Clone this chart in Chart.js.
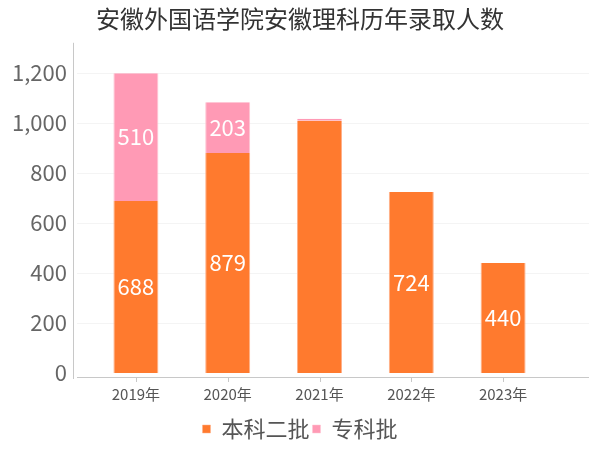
<!DOCTYPE html>
<html>
<head>
<meta charset="utf-8">
<script src="https://cdn.jsdelivr.net/npm/chart.js@4/dist/chart.umd.min.js"></script>
<style>
  html, body { margin: 0; padding: 0; background: #fff; }
  #wrap { width: 600px; height: 450px; position: relative; }
</style>
</head>
<body>
<div id="wrap"><canvas id="c"></canvas></div>
<script>
const years      = ['2019年', '2020年', '2021年', '2022年', '2023年'];
const benke2     = [688, 879, 1008, 724, 440];
const zhuanke    = [510, 203, 8, null, null];
// which values get a label printed inside the bar
const benke2Lbl  = [true, true, false, true, true];
const zhuankeLbl = [true, true, false, false, false];
const yTicks     = [0, 200, 400, 600, 800, 1000, 1200];

const FONT = '"Noto Sans CJK SC", "Noto Sans", sans-serif';
const ORANGE = '#ff7a2e';
const PINK   = '#ff9ab5';

// custom axis lines + faint grid, drawn a bit wider than the bar area like the original
const axisPlugin = {
  id: 'axisLines',
  beforeDatasetsDraw(chart) {
    const { ctx, scales: { x, y } } = chart;
    const y0 = Math.round(y.getPixelForValue(0));
    ctx.save();
    ctx.lineWidth = 1;
    ctx.strokeStyle = '#f4f4f4';
    yTicks.forEach(v => {
      if (v === 0) return;
      const py = Math.round(y.getPixelForValue(v)) + 0.5;
      ctx.beginPath(); ctx.moveTo(77, py); ctx.lineTo(589, py); ctx.stroke();
    });
    ctx.strokeStyle = '#c8c8c8';
    ctx.beginPath(); ctx.moveTo(73.5, y.top); ctx.lineTo(73.5, y0 + 6); ctx.stroke();
    ctx.beginPath(); ctx.moveTo(77, y0 + 4.5); ctx.lineTo(589, y0 + 4.5); ctx.stroke();
    years.forEach((_, i) => {
      const px = Math.round(x.getPixelForValue(i)) + 0.5;
      ctx.beginPath(); ctx.moveTo(px, y0 + 4); ctx.lineTo(px, y0 + 9); ctx.stroke();
    });
    ctx.restore();
  }
};

const labelPlugin = {
  id: 'barLabels',
  afterDatasetsDraw(chart) {
    const { ctx } = chart;
    const flags = [benke2Lbl, zhuankeLbl];
    ctx.save();
    ctx.fillStyle = '#fff';
    ctx.font = '22px ' + FONT;
    ctx.textAlign = 'center';
    ctx.textBaseline = 'middle';
    chart.data.datasets.forEach((ds, di) => {
      chart.getDatasetMeta(di).data.forEach((bar, i) => {
        if (!flags[di][i] || ds.data[i] == null) return;
        const cy = (bar.y + bar.base) / 2;
        ctx.fillText(String(ds.data[i]), bar.x, cy);
      });
    });
    ctx.restore();
  }
};

const edge = { top: 0, bottom: 0, left: 1, right: 1 };

new Chart(document.getElementById('c'), {
  type: 'bar',
  data: {
    labels: years,
    datasets: [
      { label: '本科二批', data: benke2, backgroundColor: ORANGE, borderColor: '#ffb088', borderWidth: edge, borderSkipped: false },
      { label: '专科批', data: zhuanke, backgroundColor: PINK, borderColor: '#ffc4d3', borderWidth: edge, borderSkipped: false }
    ]
  },
  options: {
    responsive: true, maintainAspectRatio: false, animation: false,
    categoryPercentage: 1, barPercentage: 0.49,
    layout: { padding: { left: 0, right: 0, top: 0, bottom: 0 } },
    plugins: {
      title: {
        display: true, text: '安徽外国语学院安徽理科历年录取人数',
        color: '#333', font: { family: FONT, size: 24, weight: 'normal' },
        padding: { top: 4, bottom: 10 }
      },
      legend: {
        position: 'bottom',
        labels: {
          color: '#555', font: { family: FONT, size: 22 },
          boxWidth: 8, boxHeight: 8, padding: 3
        }
      },
      tooltip: { enabled: false }
    },
    scales: {
      x: {
        stacked: true,
        grid: { display: false, drawTicks: false },
        border: { display: false },
        ticks: { color: '#555', font: { family: FONT, size: 15 }, padding: 12 }
      },
      y: {
        stacked: true, min: 0, max: 1320,
        afterFit: s => { s.width = 90; },
        afterBuildTicks: s => { s.ticks = yTicks.map(v => ({ value: v })); },
        grid: { display: false, drawTicks: false },
        border: { display: false },
        ticks: {
          color: '#666', font: { family: FONT, size: 22 }, padding: 23,
          callback: v => v.toLocaleString('en-US')
        }
      },
      // empty right-hand axis only to reserve space so title/legend stay centred on the canvas
      yRight: {
        position: 'right', display: true,
        afterFit: s => { s.width = 51; },
        grid: { display: false, drawTicks: false },
        border: { display: false },
        ticks: { display: false }
      }
    }
  },
  plugins: [axisPlugin, labelPlugin]
});
</script>
</body>
</html>
